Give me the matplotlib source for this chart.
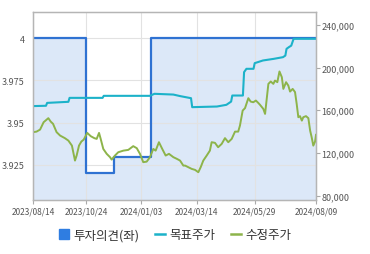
import matplotlib
matplotlib.use('Agg')
import matplotlib.pyplot as plt
from matplotlib.lines import Line2D
from matplotlib.patches import Patch
from matplotlib.ticker import FuncFormatter

plt.rcParams['font.family'] = ['Noto Sans CJK KR', 'DejaVu Sans']

# x axis = trading day index (0 = 2023/08/14, 240 = 2024/08/09)
tick_days = [0, 45, 92, 139, 188, 240]
tick_dates = ['2023/08/14', '2023/10/24', '2024/01/03', '2024/03/14', '2024/05/29', '2024/08/09']

left_ticks = [3.925, 3.95, 3.975, 4]
left_labels = ['3.925', '3.95', '3.975', '4']
right_ticks = [80000, 120000, 160000, 200000, 240000]

# 투자의견 (left axis), step changes
opinion_days = [0, 45, 69, 100, 240]
opinion = [4, 3.92, 3.93, 4, 4]

# 목표주가 (right axis)
target_days = [0, 11, 12, 30, 31, 59, 60, 99, 103, 119, 125, 134, 135, 156, 164,
               168, 169, 178, 179, 181, 187, 188, 195, 204, 212, 214, 215, 217,
               219, 221, 240]
target = [163900, 164200, 166900, 167900, 171600, 171600, 173500, 173500, 175400,
          174700, 173200, 171300, 162900, 163500, 165100, 168100, 173800, 173800,
          195700, 198800, 198800, 204100, 206600, 208100, 209700, 211200, 217500,
          219100, 220500, 226900, 226900]

# 수정주가 (right axis)
price_days = [0, 3, 6, 9, 13, 15, 17, 20, 23, 27, 30, 33, 35.6, 37, 39, 41, 43, 46,
              49, 52, 54, 56, 57.4, 59.6, 62.5, 65.3, 66.7, 69.5, 72.3, 76.6, 80.8,
              85, 88, 90.7, 93.5, 96.4, 99.2, 102, 104, 106.8, 109.6, 112.5, 115.3,
              119, 122, 124.7, 127.5, 129, 131.7, 134.6, 137.4, 140.2, 142.2, 144.4,
              147.3, 150, 151.5, 154.3, 157, 160, 162.8, 165.6, 168.5, 171.3, 174,
              175.5, 177.8, 179.8, 182.6, 184.6, 186.8, 189, 191, 192.5, 195.3,
              196.8, 198.2, 199.6, 201.6, 203.8, 205.2, 207.2, 209, 211, 212.3,
              214.6, 216.5, 218, 220.2, 222.2, 223.6, 225, 226.4, 228, 229.2, 231.5,
              233.5, 235, 236.3, 237.7, 239.2, 240]
price = [139500, 140000, 141900, 148800, 152600, 149400, 147300, 139500, 136300,
         133900, 131600, 126900, 112900, 117600, 126900, 130700, 132500, 138800,
         135700, 133900, 133200, 138800, 133200, 123800, 119200, 116100, 113800,
         117600, 120700, 122200, 122900, 126400, 124500, 119200, 111400, 111900,
         116100, 123800, 122200, 130100, 123800, 117600, 119200, 116100, 114500,
         112900, 108200, 108200, 106700, 105100, 104200, 102000, 106700, 112900,
         117600, 122200, 130100, 129500, 125400, 128500, 133900, 130100, 133200,
         140000, 140000, 145700, 159700, 162000, 171300, 168100, 167500, 169100,
         166900, 165100, 161300, 156600, 170700, 184700, 186900, 184700, 187800,
         186300, 196300, 191000, 180000, 186300, 183100, 177500, 180000, 177000,
         166000, 153500, 154500, 150300, 153500, 154500, 152600, 141000, 134800,
         126900, 130700, 137000]

fig = plt.figure(figsize=(3.7, 2.55), dpi=100)
ax = fig.add_axes([0.0892, 0.2118, 0.7649, 0.7373])
ax2 = ax.twinx()

blue = '#2f72d2'
cyan = '#1cb2c9'
green = '#8db44a'
grey_txt = '#555555'

ax.fill_between(opinion_days, opinion, 3.80, step='post', color='#dce8f8', lw=0)
ax.step(opinion_days, opinion, where='post', color=blue, lw=1.6)
ax2.plot(target_days, target, color=cyan, lw=1.5)
ax2.plot(price_days, price, color=green, lw=1.4)

ax.set_xlim(0, 240)
ax.set_ylim(3.9043, 4.0155)
ax2.set_ylim(76000, 252000)

ax.set_xticks(tick_days)
ax.set_xticklabels(tick_dates)
ax.set_yticks(left_ticks)
ax.set_yticklabels(left_labels)
ax2.set_yticks(right_ticks)
ax2.yaxis.set_major_formatter(FuncFormatter(lambda v, p: f'{v:,.0f}'))

ax.grid(True, color='#e2e2e2', lw=0.8)
ax.tick_params(axis='x', length=3, color='#aaaaaa', labelsize=6, labelcolor=grey_txt, pad=2)
ax.tick_params(axis='y', length=0, labelsize=6.5, labelcolor=grey_txt, pad=6)
ax2.tick_params(axis='y', length=3, color='#aaaaaa', labelsize=6.5, labelcolor=grey_txt, pad=1)

for a in (ax, ax2):
    for s in a.spines.values():
        s.set_color('#b5b5b5')
        s.set_linewidth(0.9)

handles = [Patch(color='#2f7de1'),
           Line2D([], [], color=cyan, lw=1.8),
           Line2D([], [], color=green, lw=1.8)]
labels = ['투자의견(좌)', '목표주가', '수정주가']
fig.legend(handles, labels, loc='center', bbox_to_anchor=(175 / 370, 1 - 236 / 255),
           ncol=3, frameon=False, fontsize=9, handlelength=0.8, handleheight=0.8,
           handletextpad=0.3, columnspacing=1.3, labelcolor='#333333')

fig.savefig('out.png', dpi=100)
